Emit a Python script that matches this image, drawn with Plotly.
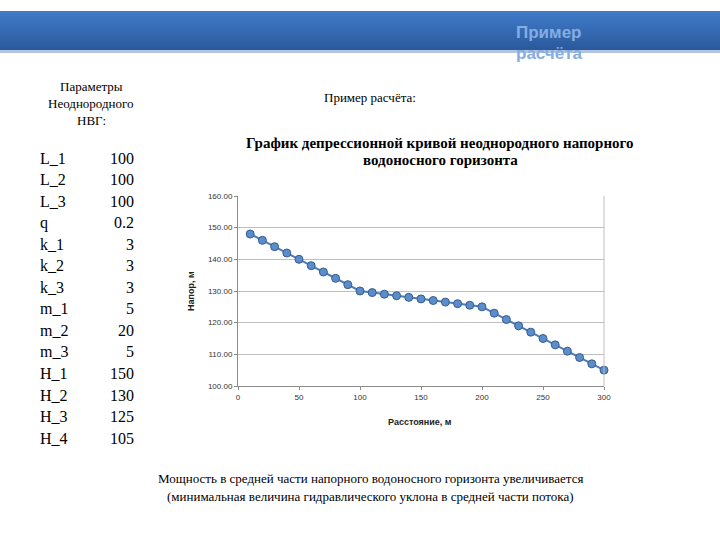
import plotly.graph_objects as go

# ---- data ----
distance_m = [10, 20, 30, 40, 50, 60, 70, 80, 90, 100,
              110, 120, 130, 140, 150, 160, 170, 180, 190, 200,
              210, 220, 230, 240, 250, 260, 270, 280, 290, 300]
head_m = [148, 146, 144, 142, 140, 138, 136, 134, 132, 130,
          129.5, 129, 128.5, 128, 127.5, 127, 126.5, 126, 125.5, 125,
          123, 121, 119, 117, 115, 113, 111, 109, 107, 105]
param_names = ["L_1", "L_2", "L_3", "q", "k_1", "k_2", "k_3",
               "m_1", "m_2", "m_3", "H_1", "H_2", "H_3", "H_4"]
param_values = ["100", "100", "100", "0.2", "3", "3", "3",
                "5", "20", "5", "150", "130", "125", "105"]
y_ticks = [100, 110, 120, 130, 140, 150, 160]
x_ticks = [0, 50, 100, 150, 200, 250, 300]

W, H = 720, 540
PL, PR, PT, PB = 238, 604, 196, 386  # plot area in pixels


def px(x):
    return (x - PL) / (PR - PL)


def py(y):
    return (PB - y) / (PB - PT)


SERIF = "Liberation Serif, Times New Roman, serif"
SANS = "Liberation Sans, Arial, sans-serif"

fig = go.Figure()
fig.add_trace(go.Scatter(
    x=distance_m, y=head_m, mode="lines+markers",
    line=dict(color="#4a7ebb", width=2),
    marker=dict(size=8, color="#5b8ccb", line=dict(color="#385d8a", width=1)),
    showlegend=False, cliponaxis=False,
))

shapes = []
# header bar gradient
top, bot = 11, 50
c0 = (64, 124, 202)
c1 = (43, 90, 156)
n = 26
for i in range(n):
    t = i / (n - 1)
    c = tuple(int(c0[k] + (c1[k] - c0[k]) * t) for k in range(3))
    y0 = top + (bot - top) * i / n
    y1 = top + (bot - top) * (i + 1) / n + 0.5
    shapes.append(dict(type="rect", xref="paper", yref="paper",
                       x0=px(0), x1=px(W), y0=py(y1), y1=py(y0),
                       fillcolor="rgb(%d,%d,%d)" % c, line=dict(width=0), layer="below"))
shapes.append(dict(type="rect", xref="paper", yref="paper",
                   x0=px(0), x1=px(W), y0=py(53), y1=py(50),
                   fillcolor="#b3c4de", line=dict(width=0), layer="below"))
# right border of plot area
shapes.append(dict(type="line", xref="paper", yref="paper",
                   x0=1, x1=1, y0=0, y1=1, line=dict(color="#bfbfbf", width=1)))

ann = []
ann.append(dict(text="<b>Пример</b>", x=px(514), y=py(32), xref="paper", yref="paper",
                xanchor="left", yanchor="middle", align="left", showarrow=False,
                font=dict(family=SANS, size=17, color="#86ade3")))
ann.append(dict(text="<b>расчёта</b>", x=px(514), y=py(54), xref="paper", yref="paper",
                xanchor="left", yanchor="middle", align="left", showarrow=False,
                font=dict(family=SANS, size=17, color="#86ade3")))
ann.append(dict(text="Пример расчёта:", x=px(370), y=py(98), xref="paper", yref="paper",
                xanchor="center", yanchor="middle", showarrow=False,
                font=dict(family=SERIF, size=13, color="black")))
for i, line in enumerate(["Параметры", "Неоднородного", "НВГ:"]):
    ann.append(dict(text=line, x=px(91), y=py(86 + i * 17), xref="paper", yref="paper",
                    xanchor="center", yanchor="middle", showarrow=False,
                    font=dict(family=SERIF, size=13, color="black")))
for i, (nm, v) in enumerate(zip(param_names, param_values)):
    yy = 158 + i * 21.55
    ann.append(dict(text=nm, x=px(38), y=py(yy), xref="paper", yref="paper",
                    xanchor="left", yanchor="middle", showarrow=False,
                    font=dict(family=SERIF, size=16, color="black")))
    ann.append(dict(text=v, x=px(136), y=py(yy), xref="paper", yref="paper",
                    xanchor="right", yanchor="middle", showarrow=False,
                    font=dict(family=SERIF, size=16, color="black")))
for i, line in enumerate(["График депрессионной кривой неоднородного напорного",
                          "водоносного горизонта"]):
    ann.append(dict(text="<b>" + line + "</b>", x=px(440), y=py(143 + i * 17), xref="paper", yref="paper",
                    xanchor="center", yanchor="middle", showarrow=False,
                    font=dict(family=SERIF, size=15, color="black")))
ann.append(dict(text="<b>Расстояние, м</b>", x=px(420), y=py(422), xref="paper", yref="paper",
                xanchor="center", yanchor="middle", showarrow=False,
                font=dict(family=SANS, size=9, color="#222222")))
ann.append(dict(text="<b>Напор, м</b>", x=px(191), y=py(291), xref="paper", yref="paper",
                xanchor="center", yanchor="middle", showarrow=False, textangle=-90,
                font=dict(family=SANS, size=9, color="#222222")))
for i, line in enumerate(["Мощность в средней части напорного водоносного горизонта увеличивается",
                          "(минимальная величина гидравлического уклона в средней части потока)"]):
    ann.append(dict(text=line, x=px(370), y=py(478 + i * 18), xref="paper", yref="paper",
                    xanchor="center", yanchor="middle", showarrow=False,
                    font=dict(family=SERIF, size=13, color="black")))

fig.update_layout(
    width=W, height=H, autosize=False,
    margin=dict(l=PL, r=W - PR, t=PT, b=H - PB, pad=0),
    paper_bgcolor="white", plot_bgcolor="white",
    shapes=shapes, annotations=ann,
    xaxis=dict(range=[0, 300], tickvals=x_ticks, ticktext=[str(v) for v in x_ticks],
               showgrid=False, zeroline=False, showline=True, linecolor="#8c8c8c", linewidth=1,
               ticks="outside", ticklen=3, tickcolor="#8c8c8c",
               tickfont=dict(family=SANS, size=8, color="#333333")),
    yaxis=dict(range=[100, 160], tickvals=y_ticks, ticktext=["%.2f" % v for v in y_ticks],
               showgrid=True, gridcolor="#bfbfbf", gridwidth=1, zeroline=False,
               showline=True, linecolor="#8c8c8c", linewidth=1,
               ticks="outside", ticklen=3, tickcolor="#8c8c8c",
               tickfont=dict(family=SANS, size=8, color="#333333")),
)

fig.write_html("out.html", config={"displayModeBar": False},
               post_script="document.body.style.margin='0';document.body.style.overflow='hidden';")
